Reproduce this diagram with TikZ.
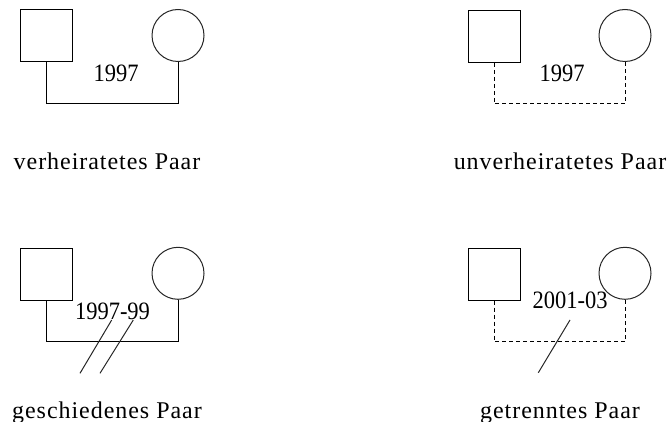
\documentclass[tikz,border=0pt]{standalone}
\usepackage{fontspec}
\setmainfont{Liberation Serif}
\newfontfamily\capfont[LetterSpace=4]{Liberation Serif}
\newfontfamily\yearfont[FakeStretch=0.9]{Liberation Serif}
\usetikzlibrary{positioning}

\begin{document}
\begin{tikzpicture}[
      x=1pt, y=-1pt,
      male/.style={draw=black, line width=1pt, minimum size=52pt, inner sep=0pt},
      female/.style={circle, draw=black!85, line width=1pt, minimum size=52pt, inner sep=0pt},
      link/.style={draw=black, line width=1pt},
      loose/.style={link, dash pattern=on 4pt off 3pt},
      cut/.style={draw=black!85, line width=1pt},
      year/.style={font=\yearfont\fontsize{25}{28}\selectfont, inner sep=0pt, anchor=base},
      caption/.style={font=\capfont\fontsize{24}{28}\selectfont, inner sep=0pt, anchor=base}
    ]
    \useasboundingbox (0,0) rectangle (671,422);

    % ---- top left: married ----
    \node[male] (m1) at (46,36) {};
    \node[female] (f1) at (178,35.5) {};
    \draw[link] (m1.south) -- ++(0,41) -| (f1.south);
    \node[year] (y1) at (116,82) {1997};
    \node[caption] (c1) at (107,169) {verheiratetes Paar};

    % ---- top right: unmarried ----
    \node[male] (m2) at (494,36.5) {};
    \node[female] (f2) at (625,35.5) {};
    \draw[loose] (m2.south) -- ++(0,41) -| (f2.south);
    \node[year] (y2) at (562,82) {1997};
    \node[caption] (c2) at (560,169) {unverheiratetes Paar};

    % ---- bottom left: divorced ----
    \node[male] (m3) at (46,274) {};
    \node[female] (f3) at (178,273.3) {};
    \draw[link] (m3.south) -- ++(0,41) -| (f3.south);
    \node[year] (y3) at (112.5,319) {1997-99};
    \coordinate (d1a) at (80,373.3);   \coordinate (d1b) at (111.7,320);
    \coordinate (d2a) at (100,373.3);  \coordinate (d2b) at (133.3,320);
    \draw[cut] (d1a) -- (d1b);
    \draw[cut] (d2a) -- (d2b);
    \node[caption] (c3) at (107,418) {geschiedenes Paar};

    % ---- bottom right: separated ----
    \node[male] (m4) at (494,274) {};
    \node[female] (f4) at (625,273.3) {};
    \draw[loose] (m4.south) -- ++(0,41) -| (f4.south);
    \node[year] (y4) at (570,308) {2001-03};
    \coordinate (s1a) at (538.3,372.7); \coordinate (s1b) at (570,320);
    \draw[cut] (s1a) -- (s1b);
    \node[caption] (c4) at (560,418) {getrenntes Paar};
  \end{tikzpicture}
\end{document}
